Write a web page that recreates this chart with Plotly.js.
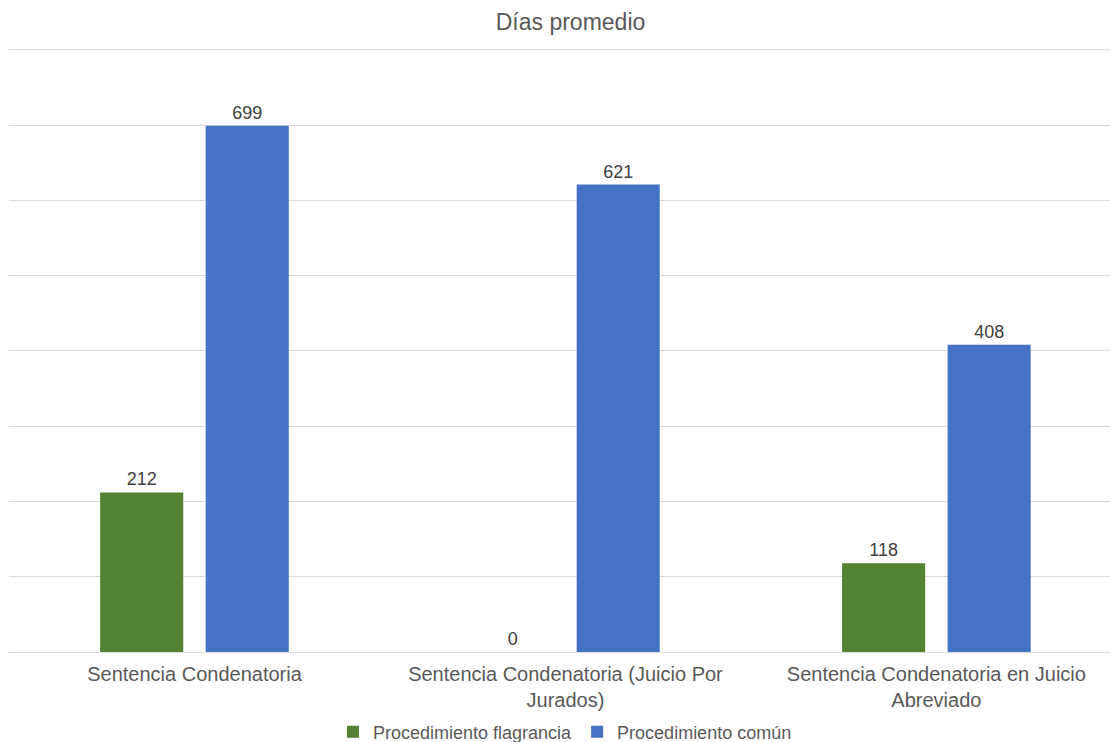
<!DOCTYPE html>
<html>
<head>
<meta charset="utf-8">
<script src="https://cdn.plot.ly/plotly-3.0.1.min.js"></script>
<style>html,body{margin:0;padding:0;background:#fff;}#chart{width:1110px;height:742px;}</style>
</head>
<body>
<div id="chart"></div>
<script>
const categories = ["Sentencia Condenatoria", "Sentencia Condenatoria (Juicio Por<br>Jurados)", "Sentencia Condenatoria en Juicio<br>Abreviado"];
const seriesNames = ["Procedimiento flagrancia", "Procedimiento común"];
const flagrancia = [212, 0, 118];
const comun = [699, 621, 408];
const colors = ["#548235", "#4472C4"];

const font = "Arial, 'Liberation Sans', sans-serif";
const traces = [flagrancia, comun].map((vals, i) => ({
  type: "bar",
  name: seriesNames[i],
  x: categories,
  y: vals,
  marker: {color: colors[i]},
  text: vals.map(String),
  textposition: "outside",
  cliponaxis: false,
  textfont: {size: 18, color: "#404040", family: font},
  hoverinfo: "x+y+name"
}));

const layout = {
  width: 1110, height: 742,
  margin: {l: 9, r: 0, t: 46, b: 90},
  paper_bgcolor: "#fff", plot_bgcolor: "#fff",
  font: {family: font, color: "#595959"},
  title: {text: "Días promedio", font: {size: 23, color: "#595959", family: font}, x: 0.51, xanchor: "center", xref: "paper", yref: "container", y: 0.97, yanchor: "middle"},
  barmode: "group",
  bargap: 0.431,
  bargroupgap: 0.213,
  xaxis: {
    range: [-0.5, 2.468],
    tickfont: {size: 20, color: "#595959", family: font},
    ticklabelstandoff: 8,
    showgrid: false, zeroline: false, showline: false, ticks: "", automargin: false
  },
  yaxis: {
    range: [0, 805], dtick: 100, tick0: 0, showticklabels: false,
    gridcolor: "#d9d9d9", gridwidth: 1, zeroline: true, zerolinecolor: "#d9d9d9", zerolinewidth: 1,
    automargin: false
  },
  legend: {
    orientation: "h", x: 0.505, xanchor: "center", xref: "paper", yref: "container", y: 0.0135, yanchor: "middle",
    font: {size: 18, color: "#595959", family: font},
    itemwidth: 30, traceorder: "normal"
  },
  showlegend: true
};

Plotly.newPlot("chart", traces, layout, {displayModeBar: false, staticPlot: true});
</script>
</body>
</html>
